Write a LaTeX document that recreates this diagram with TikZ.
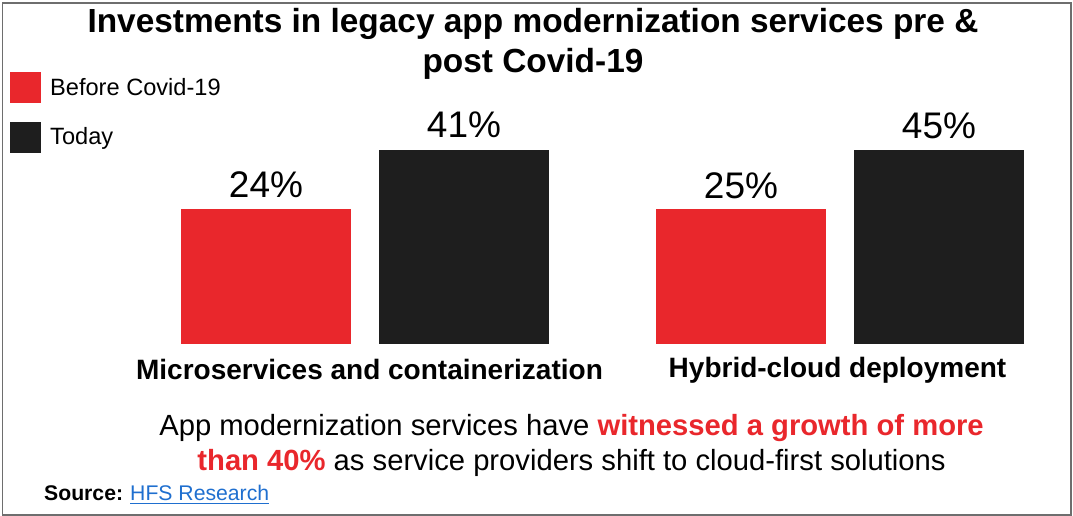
\documentclass[tikz,border=0pt]{standalone}
\usepackage{fontspec}
\setmainfont{Liberation Sans}
\definecolor{hfsred}{HTML}{E9272C}
\definecolor{hfsblack}{HTML}{1E1E1E}
\definecolor{hfsblue}{HTML}{1F6FCF}
\definecolor{frame}{HTML}{6E6E6E}
\tikzset{
  bar/.style={inner sep=0pt, outer sep=0pt, minimum width=170, anchor=south west},
  redbar/.style={bar, fill=hfsred},
  blackbar/.style={bar, fill=hfsblack},
  legbox/.style={inner sep=0pt, minimum width=31, minimum height=31, anchor=north west},
  pct/.style={anchor=base, inner sep=0pt, font=\fontsize{37}{44}\selectfont},
  cat/.style={anchor=base, inner sep=0pt, font=\fontsize{28}{32}\selectfont\bfseries},
  legtext/.style={anchor=base west, inner sep=0pt, font=\fontsize{23.6}{28}\selectfont},
  titletext/.style={anchor=base, inner sep=0pt, font=\fontsize{33.4}{40}\selectfont\bfseries},
  bodytext/.style={anchor=base, inner sep=0pt, font=\fontsize{29.2}{34}\selectfont},
  srctext/.style={anchor=base west, inner sep=0pt, font=\fontsize{21.2}{25}\selectfont}
}
\begin{document}
\begin{tikzpicture}[x=1pt,y=-1pt]
\useasboundingbox (0,0) rectangle (1073,516);
\draw[frame, line width=1.5] (2.5,3) rectangle (1071,515);
% title
\node[titletext] (t1) at (533,33) {Investments in legacy app modernization services pre \&};
\node[titletext] (t2) at (533,73) {post Covid-19};
% legend
\node[legbox, fill=hfsred] (lr) at (10,72) {};
\node[legbox, fill=hfsblack] (lb) at (10,122) {};
\node[legtext] (lrt) at (50,95.5) {Before Covid-19};
\node[legtext] (lbt) at (50,144) {Today};
% bars group 1
\node[redbar, minimum height=135] (r1) at (181,344) {};
\node[blackbar, minimum height=194] (k1) at (379,344) {};
\node[pct] (p1) at (266,197) {24\%};
\node[pct] (p2) at (464,138) {41\%};
\node[cat] (c1) at (369.5,379) {Microservices and containerization};
% bars group 2
\node[redbar, minimum height=135] (r2) at (656,344) {};
\node[blackbar, minimum height=194] (k2) at (854,344) {};
\node[pct] (p3) at (741,198) {25\%};
\node[pct] (p4) at (939,139) {45\%};
\node[cat] (c2) at (837.5,377) {Hybrid-cloud deployment};
% bottom text
\node[bodytext] (b1) at (571.5,435) {App modernization services have \textcolor{hfsred}{\bfseries witnessed a growth of more}};
\node[bodytext] (b2) at (571.5,470) {\textcolor{hfsred}{\bfseries than 40\%} as service providers shift to cloud-first solutions};
\node[srctext] (s1) at (44,500) {\bfseries Source:};
\node[srctext] (s2) at (130,500) {\textcolor{hfsblue}{HFS Research}};
\draw[hfsblue, line width=1.3] (s2.south west) ++(0,3) -- ([yshift=-3]s2.south east);
\end{tikzpicture}
\end{document}
